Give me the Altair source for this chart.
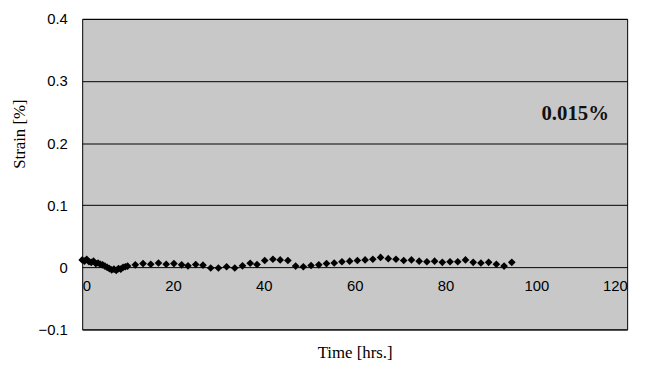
import altair as alt
import pandas as pd

# Time [hrs.] and strain [%]
hours = [0, 0.5, 1.0, 1.5, 2.0, 2.5, 3.0, 3.5, 4.0, 4.5, 5.0, 5.5, 6.0, 6.5, 7.0, 7.5,
         8.0, 8.5, 9.0, 9.5, 10.0,
         11.7, 13.4, 15.1, 16.8, 18.5, 20.2, 21.9, 23.3, 25.0, 26.6, 28.3, 30.0, 31.8,
         33.6, 35.3, 37.0, 38.5, 40.2, 42.0, 43.6, 45.3, 47.0, 48.7, 50.4, 52.1, 53.8,
         55.5, 57.2, 58.9, 60.6, 62.3, 64.0, 65.7, 67.4, 69.1, 70.8, 72.5, 74.2, 75.9,
         77.6, 79.3, 81.0, 82.7, 84.4, 86.1, 87.8, 89.5, 91.2, 92.9, 94.6]
strain = [0.012, 0.010, 0.013, 0.009, 0.008, 0.010, 0.006, 0.007, 0.005, 0.004, 0.002,
          0.000, -0.002, -0.004, -0.003, -0.005, -0.002, -0.003, 0.000, 0.001, 0.002,
          0.004, 0.006, 0.005, 0.007, 0.005, 0.006, 0.004, 0.0024, 0.0045, 0.0035,
          -0.001, -0.001, 0.001, -0.001, 0.0024, 0.0066, 0.0045, 0.011, 0.013, 0.012,
          0.011, 0.002, 0.001, 0.003, 0.004, 0.006, 0.007, 0.009, 0.010, 0.011, 0.012,
          0.013, 0.016, 0.014, 0.013, 0.011, 0.012, 0.010, 0.009, 0.010, 0.008, 0.009,
          0.009, 0.012, 0.008, 0.007, 0.008, 0.005, 0.002, 0.008]

x_ticks = [0, 20, 40, 60, 80, 100, 120]
y_ticks = [-0.1, 0, 0.1, 0.2, 0.3, 0.4]
note_text = ["0.015%"]
note_x = [116.0]
note_y = [0.246]

df = pd.DataFrame({"t": hours, "s": strain})
note = pd.DataFrame({"t": note_x, "s": note_y, "label": note_text})

x_scale = alt.Scale(domain=[0, 120], nice=False, zero=False)
y_scale = alt.Scale(domain=[-0.1, 0.4], nice=False)

points = alt.Chart(df).mark_point(
    shape="diamond", filled=True, color="black", size=60, opacity=1
).encode(
    x=alt.X("t:Q", scale=x_scale,
            axis=alt.Axis(title="Time [hrs.]", values=x_ticks, format="d",
                          grid=False, ticks=False, domain=False, offset=-63,
                          labelPadding=12, labelFont="Liberation Sans",
                          labelFontSize=15, labelColor="black",
                          titleFont="Liberation Serif", titleFontSize=17,
                          titleFontWeight="normal", titleColor="black",
                          titleY=86, titleBaseline="middle")),
    y=alt.Y("s:Q", scale=y_scale,
            axis=alt.Axis(title="Strain [%]", values=y_ticks, format="~g",
                          grid=True, gridColor="black", gridWidth=1, gridOpacity=1,
                          ticks=False, domain=False, labelPadding=15,
                          labelFont="Liberation Sans", labelFontSize=15,
                          labelColor="black", titleFont="Liberation Serif",
                          titleFontSize=17, titleFontWeight="normal",
                          titleColor="black", titlePadding=10, titleY=116)),
)

label = alt.Chart(note).mark_text(
    font="Liberation Serif", fontSize=21, fontWeight="bold", color="#111111",
    align="right", baseline="middle"
).encode(
    x=alt.X("t:Q", scale=x_scale),
    y=alt.Y("s:Q", scale=y_scale),
    text="label:N",
)

chart = alt.layer(points, label).properties(
    width=551, height=314,
    background="white",
    autosize=alt.AutoSizeParams(type="none"),
    padding={"left": 75, "top": 9, "right": 14, "bottom": 40},
).configure_view(
    fill="#c8c8c8", stroke="black", strokeWidth=1
)

chart.save("out.html", embed_options={"renderer": "svg", "actions": False})
